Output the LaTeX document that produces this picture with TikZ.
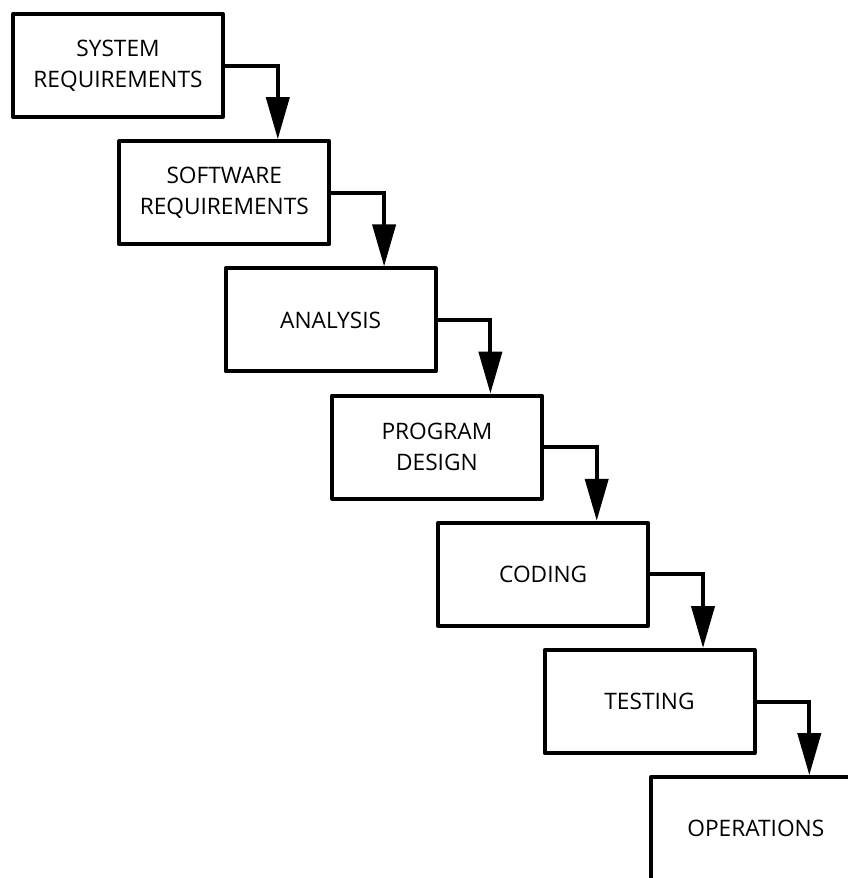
\documentclass[tikz,border=0pt]{standalone}
\usepackage{fontspec}
\setmainfont{Open Sans}
\usetikzlibrary{arrows.meta,calc}
\begin{document}
\begin{tikzpicture}[x=1pt,y=-1pt,
  stage/.style={draw=black, line width=4pt, line join=round, fill=white,
    minimum width=210pt, minimum height=103pt, inner sep=0pt,
    align=center, font=\fontsize{22.7}{31.5}\selectfont, text=black},
  flow/.style={line width=4pt, line join=miter, -{Triangle[width=23pt,length=42pt]}}]
\path[use as bounding box, fill=white] (0,0) rectangle (848,878);
\begin{scope}
\clip (0,0) rectangle (848,878);
\node[stage] (s1) at (118.0,65.5) {SYSTEM\\REQUIREMENTS};
\node[stage] (s2) at (224.3,192.7) {SOFTWARE\\REQUIREMENTS};
\node[stage] (s3) at (330.6,319.9) {ANALYSIS};
\node[stage] (s4) at (436.9,447.1) {PROGRAM\\DESIGN};
\node[stage] (s5) at (543.2,574.3) {CODING};
\node[stage] (s6) at (649.5,701.5) {TESTING};
\node[stage] (s7) at (755.8,828.7) {OPERATIONS};
\foreach \a/\b in {s1/s2,s2/s3,s3/s4,s4/s5,s5/s6,s6/s7}{
  \draw[flow] (\a.east) -| ($(\b.north)!0.5!(\b.north east)$);
}
\end{scope}
\end{tikzpicture}
\end{document}
